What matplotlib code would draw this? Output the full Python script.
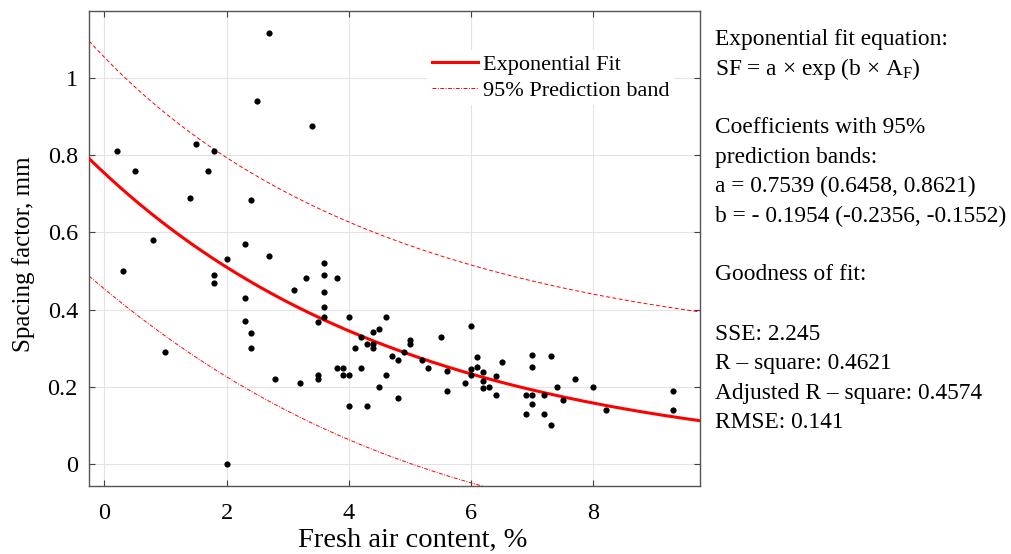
import numpy as np
import matplotlib
matplotlib.use("Agg")
import matplotlib.pyplot as plt

plt.rcParams['font.family'] = ['Liberation Serif', 'DejaVu Serif']
plt.rcParams['mathtext.fontset'] = 'custom'
plt.rcParams['mathtext.rm'] = 'Liberation Serif'

# measured data: fresh air content (%) and spacing factor (mm)
air = [0.2, 0.3, 0.5, 0.8, 1.0, 1.4, 1.5, 1.7, 1.8, 1.8, 1.8, 2.0, 2.0,
       2.3, 2.3, 2.3, 2.4, 2.4, 2.4, 2.5, 2.7, 2.7, 2.8, 3.1, 3.2, 3.3, 3.4,
       3.5, 3.5, 3.5, 3.6, 3.6, 3.6, 3.6, 3.6, 3.8, 3.8, 3.9, 3.9, 4.0, 4.0,
       4.0, 4.1, 4.2, 4.2, 4.3, 4.3, 4.4, 4.4, 4.4, 4.5, 4.5, 4.6, 4.6, 4.7,
       4.8, 4.8, 4.9, 5.0, 5.0, 5.2, 5.3, 5.5, 5.6, 5.6, 5.9, 6.0, 6.0, 6.0,
       6.1, 6.1, 6.2, 6.2, 6.2, 6.3, 6.4, 6.4, 6.5, 6.9, 6.9, 7.0, 7.0, 7.0,
       7.0, 7.2, 7.2, 7.3, 7.3, 7.4, 7.5, 7.7, 8.0, 8.2, 9.3, 9.3]
spacing = [0.81, 0.50, 0.76, 0.58, 0.29, 0.69, 0.83, 0.76, 0.81, 0.49, 0.47,
           0.53, 0.00, 0.57, 0.43, 0.37, 0.685, 0.34, 0.30, 0.94, 1.117, 0.54,
           0.22, 0.45, 0.21, 0.483, 0.876, 0.368, 0.23, 0.22, 0.521, 0.49,
           0.445, 0.406, 0.38, 0.483, 0.25, 0.25, 0.23, 0.38, 0.23, 0.15,
           0.30, 0.33, 0.25, 0.31, 0.15, 0.343, 0.31, 0.30, 0.35, 0.20, 0.381,
           0.23, 0.28, 0.27, 0.17, 0.29, 0.321, 0.31, 0.27, 0.25, 0.33, 0.24,
           0.19, 0.21, 0.358, 0.247, 0.23, 0.278, 0.252, 0.239, 0.214, 0.196,
           0.20, 0.228, 0.178, 0.264, 0.18, 0.13, 0.282, 0.252, 0.18, 0.155,
           0.18, 0.13, 0.28, 0.10, 0.20, 0.165, 0.22, 0.20, 0.14, 0.19, 0.14]

# fit coefficients and their 95% bounds
fit_a, a_lo, a_hi = 0.7539, 0.6458, 0.8621
fit_b, b_lo, b_hi = -0.1954, -0.2356, -0.1552
rmse = 0.141
t_val = 1.986
rho_ab = -0.8  # assumed correlation of a and b

info_lines = [
    "Exponential fit equation:",
    r"SF = a $\times$ exp (b $\times$ A$_{\mathrm{F}}$)",
    "",
    "Coefficients with 95%",
    "prediction bands:",
    "a = 0.7539 (0.6458, 0.8621)",
    "b = - 0.1954 (-0.2356, -0.1552)",
    "",
    "Goodness of fit:",
    "",
    "SSE: 2.245",
    "R \u2013 square: 0.4621",
    "Adjusted R \u2013 square: 0.4574",
    "RMSE: 0.141",
]

xx = np.linspace(-0.25, 9.75, 300)
fit = fit_a * np.exp(fit_b * xx)
se_a = (a_hi - a_lo) / 2 / t_val
se_b = (b_hi - b_lo) / 2 / t_val
ja = np.exp(fit_b * xx)
jb = fit_a * xx * np.exp(fit_b * xx)
var = rmse**2 + (ja * se_a)**2 + (jb * se_b)**2 + 2 * ja * jb * rho_ab * se_a * se_b
half = t_val * np.sqrt(var)

fig = plt.figure(figsize=(10.12, 5.54), dpi=100)
ax = fig.add_axes([0.088, 0.1227, 0.604, 0.8575])

ax.plot(xx, fit, color='red', lw=2.2, label='Exponential Fit', zorder=3)
ax.plot(xx, fit - half, color='red', lw=0.7, ls=(0, (4, 1.5, 1, 1.5)),
        label='95% Prediction band', zorder=2)
ax.plot(xx, fit + half, color='red', lw=0.7, ls=(0, (4, 2.5)), zorder=2)
ax.scatter(air, spacing, s=20, color='black', zorder=4, linewidths=0)

ax.set_xlim(-0.25, 9.75)
ax.set_ylim(-0.057, 1.174)
ax.set_xticks([0, 2, 4, 6, 8])
ax.set_yticks([0, 0.2, 0.4, 0.6, 0.8, 1])
ax.set_yticklabels(["0", "0.2", "0.4", "0.6", "0.8", "1"])
ax.grid(True, color='#e3e3e3', lw=0.8)
ax.set_axisbelow(True)
ax.tick_params(direction='in', length=4, top=True, right=True,
               labelsize=17.5, color='#404040', pad=8)
ax.tick_params(axis='x', pad=12)
for s in ax.spines.values():
    s.set_color('#555555')
    s.set_linewidth(1)

ax.set_xlabel("Fresh air content, %", fontsize=20.5)
ax.set_ylabel("Spacing factor, mm", fontsize=18)
ax.xaxis.set_label_coords(0.529, -0.089, transform=ax.transAxes)
ax.yaxis.set_label_coords(-0.088, 0.488, transform=ax.transAxes)

leg = ax.legend(loc='upper left', bbox_to_anchor=(0.553, 0.918), fontsize=16,
                frameon=True, facecolor='white', edgecolor='none', framealpha=1,
                handlelength=2.1, handletextpad=0.2, labelspacing=0.25,
                borderpad=0.2, borderaxespad=0, fancybox=False)

y0 = 554 - 39
for i, line in enumerate(info_lines):
    if line:
        fig.text(715 / 1012, (y0 - i * 29.5) / 554, line, fontsize=16.8,
                 va='center', ha='left')

fig.savefig("out.png", dpi=100)
